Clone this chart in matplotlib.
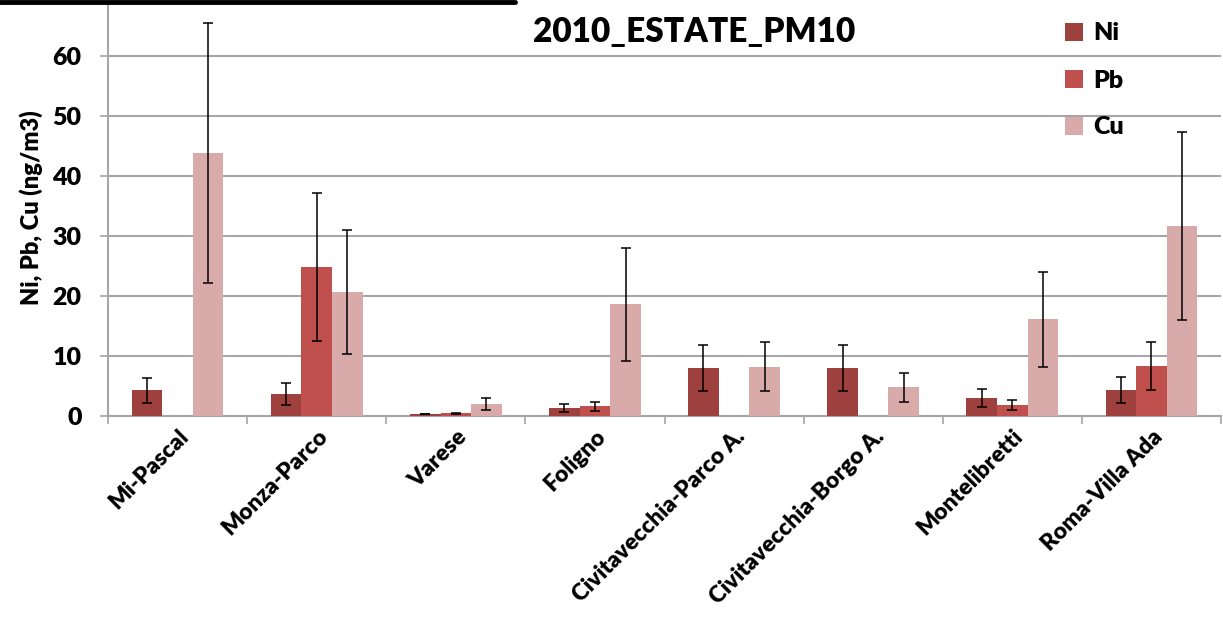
import numpy as np
import matplotlib
matplotlib.use("Agg")
from matplotlib import pyplot as plt
from matplotlib.lines import Line2D

# data (ng/m3)
sites = ["Mi-Pascal", "Monza-Parco", "Varese", "Foligno",
         "Civitavecchia-Parco A.", "Civitavecchia-Borgo A.",
         "Montelibretti", "Roma-Villa Ada"]
ni = [4.3, 3.7, 0.35, 1.4, 8.0, 8.0, 3.0, 4.3]
ni_err = [2.1, 1.8, 0.05, 0.65, 3.9, 3.9, 1.45, 2.2]
pb = [np.nan, 24.8, 0.45, 1.6, np.nan, np.nan, 1.8, 8.3]
pb_err = [np.nan, 12.3, 0.1, 0.7, np.nan, np.nan, 0.8, 4.0]
cu = [43.8, 20.7, 2.05, 18.6, 8.2, 4.8, 16.1, 31.7]
cu_err = [21.7, 10.3, 1.0, 9.4, 4.1, 2.4, 7.9, 15.7]

plt.rcParams['font.family'] = ['Lato', 'DejaVu Sans']
plt.rcParams['font.weight'] = 'heavy'

fig = plt.figure(figsize=(12.23, 6.22), dpi=100)
ax = fig.add_axes([108 / 1223, 1 - 416 / 622, 1113 / 1223, 416 / 622])

x = np.arange(len(sites))
w = 0.22
grid_col = '#a6a6a6'
err_kw = dict(ecolor='black', elinewidth=1.1, capsize=3.5, capthick=1.1)

ax.bar(x - w, ni, w, yerr=ni_err, color='#9e403e', label='Ni', error_kw=err_kw, zorder=3)
ax.bar(x, pb, w, yerr=pb_err, color='#c0504d', label='Pb', error_kw=err_kw, zorder=3)
ax.bar(x + w, cu, w, yerr=cu_err, color='#d9aaaa', label='Cu', error_kw=err_kw, zorder=3)

ax.set_xlim(-0.5, len(sites) - 0.5)
ax.set_ylim(0, 416 / 6)
ax.set_yticks(range(0, 61, 10))
ax.yaxis.grid(True, color=grid_col, linewidth=1.5, zorder=0)
ax.set_axisbelow(True)

for s in ['top', 'right']:
    ax.spines[s].set_visible(False)
for s in ['left', 'bottom']:
    ax.spines[s].set_color(grid_col)
    ax.spines[s].set_linewidth(1.5)

ax.tick_params(axis='y', length=6, width=1.2, color=grid_col, pad=13, labelsize=18)
ax.set_xticks(x)
ax.set_xticklabels(sites, rotation=45, ha='right', va='top', rotation_mode='anchor', fontsize=16.5)
ax.tick_params(axis='x', which='major', length=0, pad=7)
ax.set_xticks(np.arange(-0.5, len(sites)), minor=True)
ax.tick_params(axis='x', which='minor', length=6, width=1.2, color=grid_col)

ax.set_ylabel("Ni, Pb, Cu (ng/m3)", fontsize=17, fontweight='heavy')
ax.yaxis.set_label_coords(-0.058, 0.5)

ax.text(0.527, 0.922, "2010_ESTATE_PM10", transform=ax.transAxes, ha='center',
        va='center', fontsize=24, fontweight='heavy')

ax.legend(loc='upper left', bbox_to_anchor=(0.84, 1.0), frameon=False, fontsize=18,
          handlelength=0.7, handleheight=0.7, handletextpad=0.4, labelspacing=1.0)

# black frame edge cut off at the top of the image
fig.add_artist(Line2D([0, 515 / 1223], [1 - 2 / 622, 1 - 2 / 622],
                      transform=fig.transFigure, color='black', linewidth=3.5,
                      solid_capstyle='round'))

fig.savefig("out.png", dpi=100)
